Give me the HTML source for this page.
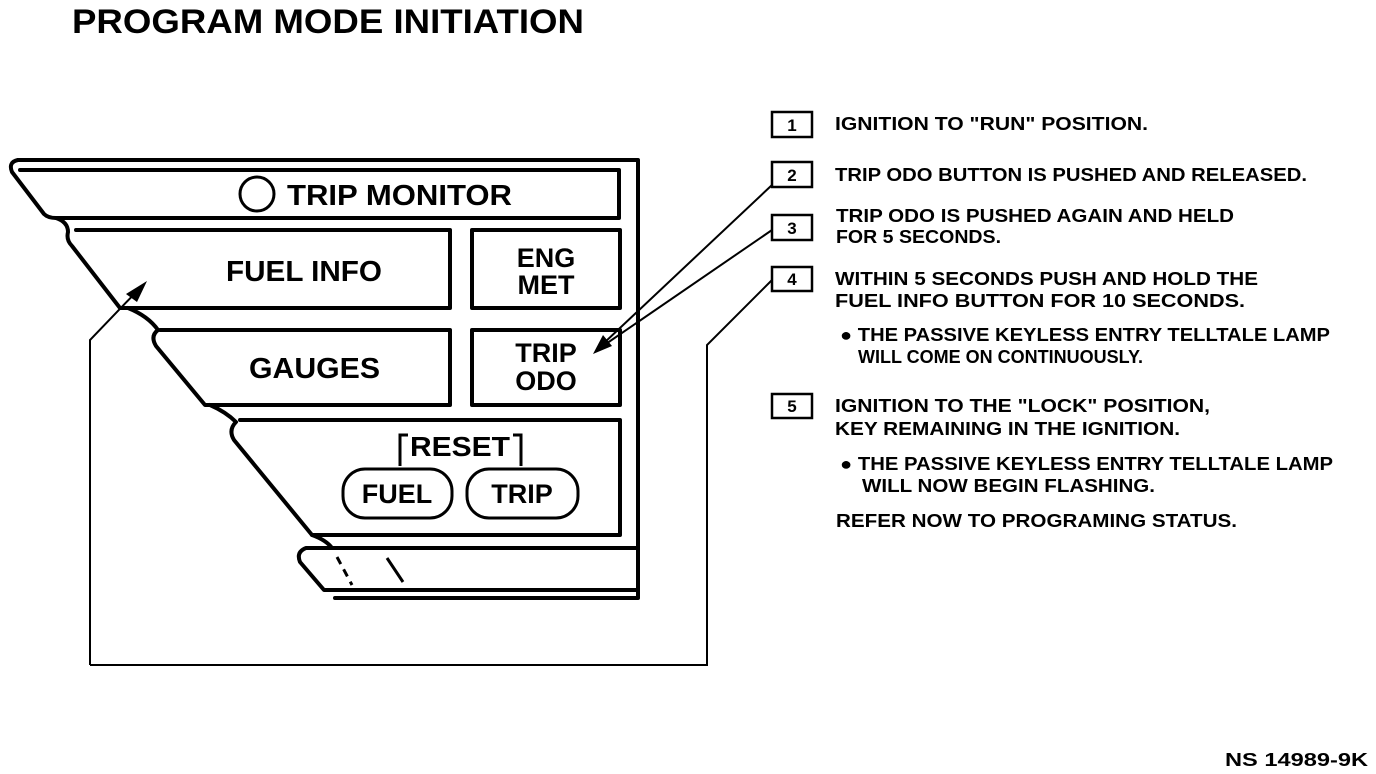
<!DOCTYPE html>
<html><head><meta charset="utf-8"><style>
html,body{margin:0;padding:0;background:#fff;}
svg{display:block;}
text{font-family:"Liberation Sans",sans-serif;font-weight:bold;fill:#000;}
</style></head><body>
<svg width="1376" height="774" viewBox="0 0 1376 774" xmlns="http://www.w3.org/2000/svg">
<text x="72" y="33" font-size="34" textLength="512" lengthAdjust="spacingAndGlyphs">PROGRAM MODE INITIATION</text>
<g fill="none" stroke="#000" stroke-width="4" stroke-linejoin="round" stroke-linecap="round">
<path d="M18 160 H638 V598 H335"/>
<path d="M18 160 Q8 162 12 172 L44 214 Q48 218 56 218 H619 V170 H20"/>
<path d="M56 218 Q68 222 68 232 Q66 240 72 246 L120 308 H450 V230 H76"/>
<rect x="472" y="230" width="148" height="78"/>
<path d="M128 308 Q148 316 158 330 Q150 336 156 346 L205 405 H450 V330 H160"/>
<rect x="472" y="330" width="148" height="75"/>
<path d="M210 405 Q226 412 236 422 Q228 430 234 440 L312 535 H620 V420 H240"/>
<path d="M312 535 Q326 540 332 548 H306 Q296 552 300 562 L324 590 H638"/>
<path d="M332 548 H638"/>
</g>
<g stroke="#000" stroke-width="3" fill="none">
<line x1="337" y1="557" x2="352" y2="585" stroke-dasharray="8,6"/>
<line x1="387" y1="558" x2="403" y2="582"/>
<rect x="343" y="469" width="109" height="49" rx="22"/>
<rect x="467" y="469" width="111" height="49" rx="22"/>
<path d="M400 466 V435 H408"/>
<path d="M513 435 H521 V466"/>
<circle cx="257" cy="194" r="17"/>
</g>
<text x="287" y="205" font-size="29" textLength="225" lengthAdjust="spacingAndGlyphs">TRIP MONITOR</text>
<text x="226" y="281" font-size="29" textLength="156" lengthAdjust="spacingAndGlyphs">FUEL INFO</text>
<text x="546" y="267" font-size="27" text-anchor="middle">ENG</text>
<text x="546" y="294" font-size="27" text-anchor="middle">MET</text>
<text x="249" y="378" font-size="29" textLength="131" lengthAdjust="spacingAndGlyphs">GAUGES</text>
<text x="546" y="362" font-size="27" text-anchor="middle">TRIP</text>
<text x="546" y="390" font-size="27" text-anchor="middle">ODO</text>
<text x="410" y="456" font-size="28" textLength="100" lengthAdjust="spacingAndGlyphs">RESET</text>
<text x="397" y="503" font-size="27" text-anchor="middle">FUEL</text>
<text x="522" y="503" font-size="27" text-anchor="middle">TRIP</text>
<g stroke="#000" stroke-width="2" fill="none">
<path d="M90 665 V340 L140 288"/>
<path d="M90 665 H707 V345 L772 280"/>
<line x1="772" y1="185" x2="604" y2="343"/>
<line x1="772" y1="230" x2="600" y2="348"/>
</g>
<polygon points="147,281 126,294 137,302" fill="#000"/>
<polygon points="593,354 603,335 612,346" fill="#000"/>
<g stroke="#000" stroke-width="2.5" fill="none">
<rect x="772" y="112" width="40" height="25"/>
<rect x="772" y="162" width="40" height="25"/>
<rect x="772" y="215" width="40" height="25"/>
<rect x="772" y="267" width="40" height="24"/>
<rect x="772" y="394" width="40" height="24"/>
</g>
<g font-size="17" text-anchor="middle">
<text x="792" y="131">1</text><text x="792" y="181">2</text><text x="792" y="234">3</text><text x="792" y="285">4</text><text x="792" y="412">5</text>
</g>
<g font-size="18" lengthAdjust="spacingAndGlyphs">
<text x="835" y="130" textLength="313" lengthAdjust="spacingAndGlyphs">IGNITION TO "RUN" POSITION.</text>
<text x="835" y="181" textLength="472" lengthAdjust="spacingAndGlyphs">TRIP ODO BUTTON IS PUSHED AND RELEASED.</text>
<text x="836" y="222" textLength="398" lengthAdjust="spacingAndGlyphs">TRIP ODO IS PUSHED AGAIN AND HELD</text>
<text x="836" y="243" textLength="165" lengthAdjust="spacingAndGlyphs">FOR 5 SECONDS.</text>
<text x="835" y="285" textLength="423" lengthAdjust="spacingAndGlyphs">WITHIN 5 SECONDS PUSH AND HOLD THE</text>
<text x="835" y="307" textLength="410" lengthAdjust="spacingAndGlyphs">FUEL INFO BUTTON FOR 10 SECONDS.</text>
<text x="840" y="341" textLength="490" lengthAdjust="spacingAndGlyphs">● THE PASSIVE KEYLESS ENTRY TELLTALE LAMP</text>
<text x="858" y="363" textLength="285" lengthAdjust="spacingAndGlyphs">WILL COME ON CONTINUOUSLY.</text>
<text x="835" y="412" textLength="375" lengthAdjust="spacingAndGlyphs">IGNITION TO THE "LOCK" POSITION,</text>
<text x="835" y="435" textLength="345" lengthAdjust="spacingAndGlyphs">KEY REMAINING IN THE IGNITION.</text>
<text x="840" y="470" textLength="493" lengthAdjust="spacingAndGlyphs">● THE PASSIVE KEYLESS ENTRY TELLTALE LAMP</text>
<text x="862" y="492" textLength="293" lengthAdjust="spacingAndGlyphs">WILL NOW BEGIN FLASHING.</text>
<text x="836" y="527" textLength="401" lengthAdjust="spacingAndGlyphs">REFER NOW TO PROGRAMING STATUS.</text>
<text x="1225" y="766" textLength="143" lengthAdjust="spacingAndGlyphs">NS 14989-9K</text>
</g>
</svg>
</body></html>
